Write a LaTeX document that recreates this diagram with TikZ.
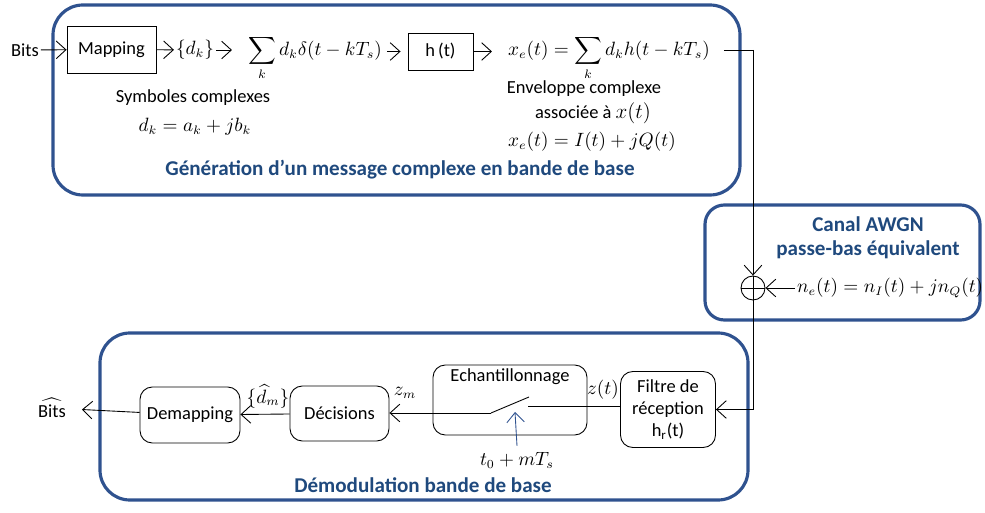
\documentclass[tikz,border=0pt]{standalone}
\usepackage{amsmath}
\usepackage[no-math]{fontspec}
\setmainfont{Carlito}
\usetikzlibrary{arrows.meta}
\definecolor{cadre}{RGB}{47,82,143}
\definecolor{titre}{RGB}{31,73,125}
\tikzset{
  fleche/.style={-{Straight Barb[length=5.5pt,width=10pt]},line width=0.5pt},
  bloc/.style={draw,line width=0.5pt,inner sep=0pt,align=center},
  rbloc/.style={bloc,rounded corners=7pt},
  zone/.style={draw=cadre,line width=1.8pt,rounded corners=#1},
  titreb/.style={font=\fontsize{12}{14}\selectfont\bfseries,text=titre},
  expr/.style={inner sep=1pt}
}
\begin{document}
\begin{tikzpicture}[x=0.02cm,y=-0.02cm,font=\fontsize{10.5}{12.5}\selectfont]
    \useasboundingbox (0,0) rectangle (985,513);
    \draw[zone=17pt] (53,5) rectangle (740,195);
    \draw[zone=11pt] (705,205) rectangle (980,320);
    \draw[zone=17pt] (100,333) rectangle (748,500);

    \node[expr] (bits) at (25,50) {Bits};
    \node[bloc,minimum width=1.78cm,minimum height=0.94cm] (mapping) at (111.5,49.5) {Mapping};
    \node[expr] (dk) at (195,50) {$\{d_k\}$};
    \node[expr,anchor=west] (somme) at (246,58) {$\displaystyle\sum_k d_k\delta(t-kT_s)$};
    \node[bloc,minimum width=1.3cm,minimum height=0.74cm] (h) at (440.5,51.5) {h\,(t)};
    \node[expr,anchor=west] (xe) at (506,58) {$\displaystyle x_e(t)=\sum_k d_kh(t-kT_s)$};
    \coordinate (coin) at (753,50);

    \node (symb) at (193,98) {Symboles complexes};
    \node (dkab) at (195,127) {$d_k=a_k+jb_k$};
    \node (env) at (584,89) {Enveloppe complexe};
    \node (assoc) at (593,113) {associée à \large$x(t)$};
    \node (xeiq) at (592,142) {$x_e(t)=I(t)+jQ(t)$};
    \node[titreb] (gen) at (400,170) {Génération d’un message complexe en bande de base};

    \node[titreb] (canal) at (868,224) {Canal AWGN};
    \node[titreb] (passe) at (868,250) {passe-bas équivalent};
    \node[draw,circle,line width=0.5pt,minimum size=0.48cm,inner sep=0pt] (plus) at (753,288) {};
    \draw[line width=0.5pt] (plus.west) -- (plus.east);
    \node[expr,anchor=west] (bruit) at (795,288) {$n_e(t)=n_I(t)+jn_Q(t)$};

    \node[rbloc,minimum width=1.9cm,minimum height=1.52cm] (filtre) at (668,409.5) {Filtre de\\réception\\h\textsubscript{r}(t)};
    \node[rbloc,minimum width=3.08cm,minimum height=1.4cm] (echant) at (510,400) {};
    \node (echtxt) at (510,377) {Echantillonnage};
    \node[rbloc,minimum width=1.98cm,minimum height=1.1cm] (decisions) at (339.5,413.5) {Décisions};
    \node[rbloc,minimum width=2cm,minimum height=1.12cm] (demapping) at (190,415) {Demapping};
    \node[expr] (bitschap) at (52,408) {$\widehat{\mbox{Bits}}$};
    \node[titreb] (demod) at (423,485) {Démodulation bande de base};

    \node (zt) at (603,390) {$z(t)$};
    \node (zm) at (405,393) {$z_m$};
    \node[expr] (dm) at (268,396) {$\{\widehat{d}_m\}$};
    \node (tzero) at (517,460) {$t_0+mT_s$};
    \coordinate (swin) at (528,406);
    \coordinate (swout) at (491,413);
    \coordinate (lame) at (529,397);
    \coordinate (pointe) at (515,412);

    \draw[fleche] (bits) -- (mapping);
    \draw[fleche] (mapping) -- (dk);
    \draw[fleche,shorten >=8pt] (dk) -- (dk -| somme.west);
    \draw[fleche,shorten <=2pt,shorten >=4pt] (somme.east |- h) -- (h);
    \draw[fleche,shorten >=8pt] (h) -- (h -| xe.west);
    \draw[line width=0.5pt] (xe.east |- coin) ++(12,0) -- (coin);
    \draw[fleche] (coin) -- (plus);
    \draw[line width=0.5pt] (plus.north) -- (plus.south);
    \draw[fleche] (bruit.west) -- (plus.east);
    \draw[fleche] (plus.south) |- (filtre.east);

    \draw[line width=0.5pt] (swin -| filtre.west) -- (swin);
    \draw[line width=0.5pt] (swout) -- (lame);
    \draw[fleche] (swout) -- (decisions.east |- swout);
    \draw[fleche,draw=cadre] (tzero.north) -- (pointe);
    \draw[fleche] (decisions) -- (demapping);
    \draw[fleche,shorten >=8pt] (demapping) -- (bitschap);
\end{tikzpicture}
\end{document}
